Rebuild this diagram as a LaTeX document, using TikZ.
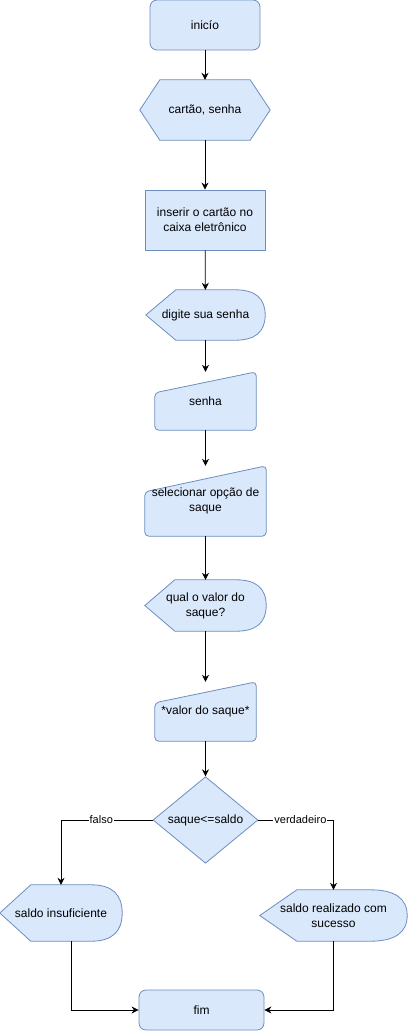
\documentclass[tikz,border=0pt]{standalone}
\usepackage{fontspec}
\setmainfont{Liberation Sans}
\usepackage{tikz}
\usepackage{xcolor}
\usetikzlibrary{shapes.geometric, arrows.meta, calc, backgrounds}
\definecolor{fcfill}{RGB}{218, 232, 252}
\definecolor{fcedge}{RGB}{108, 142, 191}
\tikzset{
    fcshape/.style={draw=fcedge, fill=fcfill, line width=0.8pt},
    fcnode/.style={inner sep=0pt, align=center, font=\fontsize{12}{15}\selectfont},
    termnode/.style={fcnode, fcshape, rectangle, rounded corners=7pt},
    procnode/.style={fcnode, fcshape, rectangle},
    decnode/.style={fcnode, fcshape, diamond, minimum width=105pt, minimum height=80pt},
    flow/.style={-{Stealth[length=7pt, width=7pt]}, line width=0.8pt, black},
    lbl/.style={fill=white, inner sep=1pt, font=\fontsize{11}{13}\selectfont}
}
% outlines drawn round plain nodes
\newcommand{\hexbox}[2]{%
  \filldraw[fcshape] ([xshift=#2]#1.north west) -- ([xshift=-#2]#1.north east) -- (#1.east)
    -- ([xshift=-#2]#1.south east) -- ([xshift=#2]#1.south west) -- (#1.west) -- cycle;}
\newcommand{\displaybox}[2]{%
  \filldraw[fcshape] (#1.west) -- ([xshift=#2]#1.north west) -- ([xshift=-#2]#1.north east)
    .. controls ([xshift=-#2/3]#1.north east) and ($(#1.east)!2/3!(#1.north east)$) .. (#1.east)
    .. controls ($(#1.east)!2/3!(#1.south east)$) and ([xshift=-#2/3]#1.south east) .. ([xshift=-#2]#1.south east)
    -- ([xshift=#2]#1.south west) -- cycle;}
\newcommand{\manualbox}[2]{%
  \filldraw[fcshape, rounded corners=4pt] ([yshift=-#2]#1.north west) -- (#1.north east)
    -- (#1.south east) -- (#1.south west) -- cycle;}

\begin{document}
\begin{tikzpicture}[x=1pt, y=-1pt]
    \useasboundingbox (0,0) rectangle (408,1031);

    \node[termnode, minimum width=110pt, minimum height=50pt] (ini) at (205,25) {inicío};
    \node[fcnode, minimum width=130pt, minimum height=60pt] (cart) at (205,110) {cartão, senha};
    \node[procnode, minimum width=120pt, minimum height=60pt] (ins) at (205,220) {inserir o cartão no\\caixa eletrônico};
    \node[fcnode, minimum width=119pt, minimum height=50pt] (dig) at (205.5,315) {digite sua senha};
    \node[fcnode, minimum width=101pt, minimum height=58pt] (sen) at (205.5,401) {senha};
    \node[fcnode, minimum width=121pt, minimum height=70pt] (sel) at (205.5,501) {selecionar opção de\\saque};
    \node[fcnode, minimum width=121pt, minimum height=51pt] (qual) at (205.5,605.5) {qual o valor do\\saque?};
    \node[fcnode, minimum width=101pt, minimum height=59pt] (val) at (205.5,711.5) {*valor do saque*};
    \node[decnode] (dec) at (205.5,820) {saque<=saldo};
    \node[fcnode, minimum width=122pt, minimum height=56pt] (insuf) at (61,913) {saldo insuficiente};
    \node[fcnode, minimum width=147pt, minimum height=51pt] (suc) at (333.5,915.5) {saldo realizado com\\sucesso};
    \node[termnode, minimum width=125pt, minimum height=40pt] (fim) at (201.5,1010) {fim};

    \begin{scope}[on background layer]
        \hexbox{cart}{20pt}
        \displaybox{dig}{30pt}
        \displaybox{qual}{30pt}
        \displaybox{insuf}{31pt}
        \displaybox{suc}{37pt}
        \manualbox{sen}{21pt}
        \manualbox{sel}{26pt}
        \manualbox{val}{21pt}
    \end{scope}

    \draw[flow] (ini) -- (cart);
    \draw[flow] (cart) -- (ins);
    \draw[flow] (ins) -- (dig);
    \draw[flow] (dig) -- (sen);
    \draw[flow] (sen) -- (sel);
    \draw[flow] (sel) -- (qual);
    \draw[flow] (qual) -- (val);
    \draw[flow] (val) -- (dec);
    \draw[flow] (dec.west) -| node[lbl, pos=0.28] {falso} (insuf.north);
    \draw[flow] (dec.east) -| node[lbl, pos=0.28] {verdadeiro} (suc.north);
    \draw[flow] ([xshift=10pt]insuf.south) |- (fim.west);
    \draw[flow] (suc.south) |- (fim.east);
\end{tikzpicture}
\end{document}
